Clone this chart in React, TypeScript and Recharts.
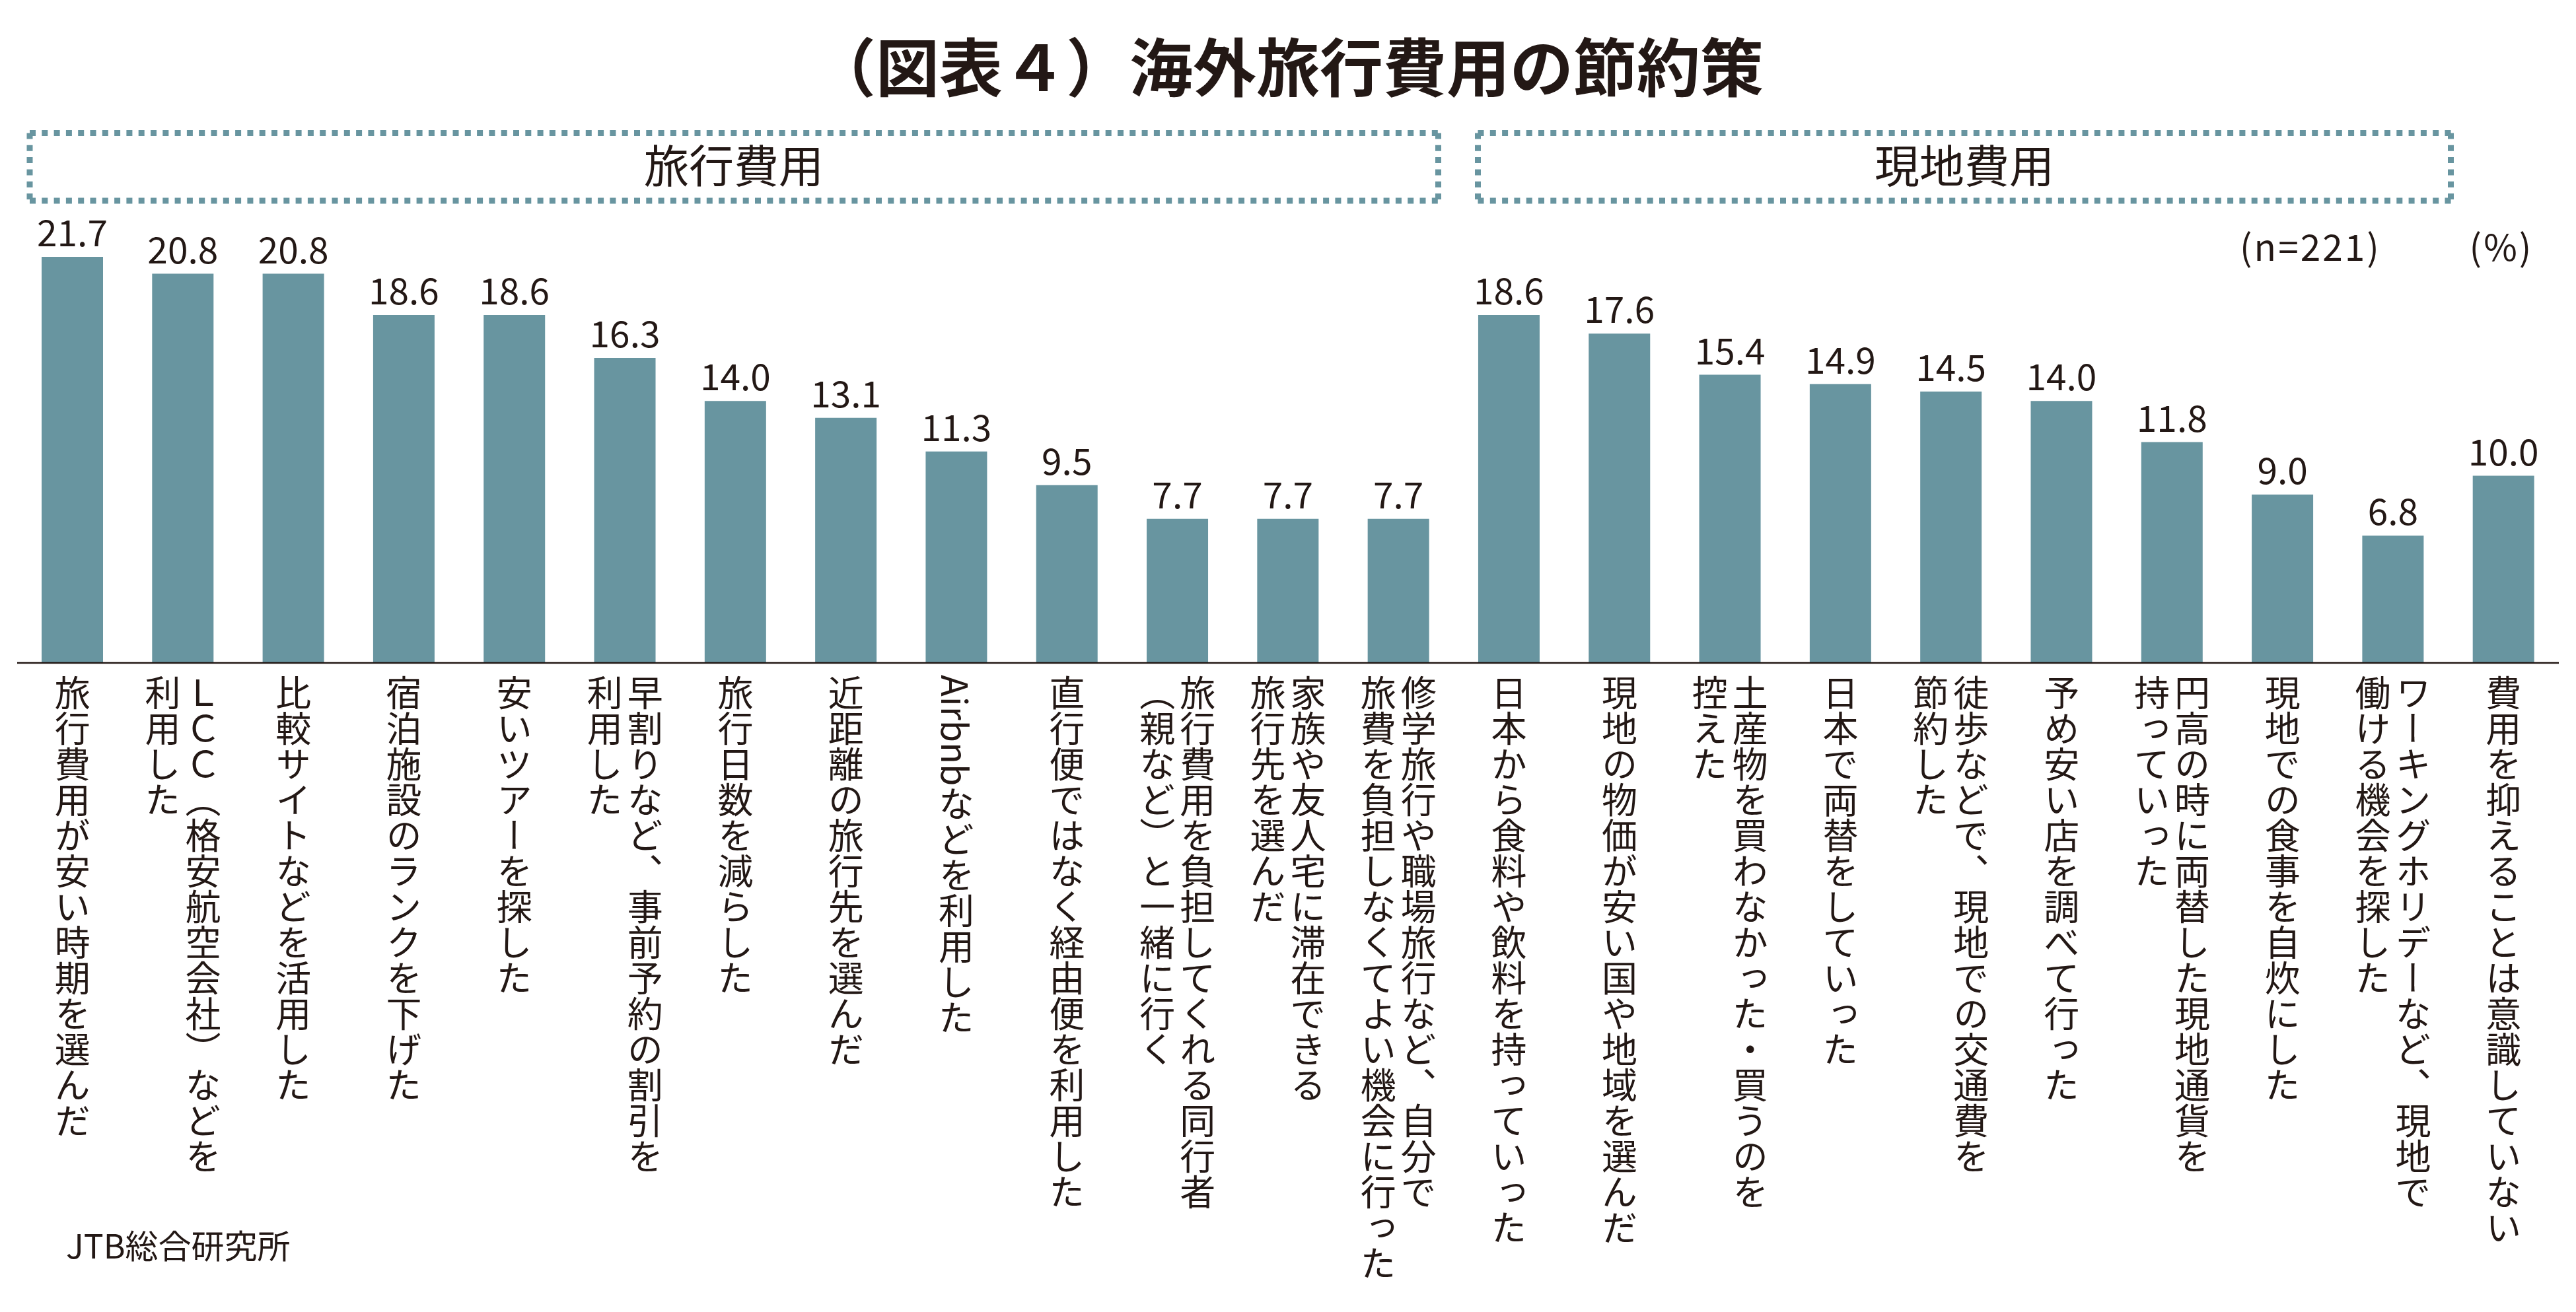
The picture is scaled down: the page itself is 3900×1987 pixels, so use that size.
import React from 'react'
import { BarChart, Bar, XAxis, YAxis, LabelList } from 'recharts'

// category labels, one entry per bar; each inner array is the columns of the vertical label
const labelLines: string[][] = [
  ['旅行費用が安い時期を選んだ'],
  ['ＬＣＣ（格安航空会社）などを', '利用した'],
  ['比較サイトなどを活用した'],
  ['宿泊施設のランクを下げた'],
  ['安いツアーを探した'],
  ['早割りなど、事前予約の割引を', '利用した'],
  ['旅行日数を減らした'],
  ['近距離の旅行先を選んだ'],
  ['Airbnbなどを利用した'],
  ['直行便ではなく経由便を利用した'],
  ['旅行費用を負担してくれる同行者', '（親など）と一緒に行く'],
  ['家族や友人宅に滞在できる', '旅行先を選んだ'],
  ['修学旅行や職場旅行など、自分で', '旅費を負担しなくてよい機会に行った'],
  ['日本から食料や飲料を持っていった'],
  ['現地の物価が安い国や地域を選んだ'],
  ['土産物を買わなかった・買うのを', '控えた'],
  ['日本で両替をしていった'],
  ['徒歩などで、現地での交通費を', '節約した'],
  ['予め安い店を調べて行った'],
  ['円高の時に両替した現地通貨を', '持っていった'],
  ['現地での食事を自炊にした'],
  ['ワーキングホリデーなど、現地で', '働ける機会を探した'],
  ['費用を抑えることは意識していない'],
]

const values = [21.7, 20.8, 20.8, 18.6, 18.6, 16.3, 14.0, 13.1, 11.3, 9.5, 7.7, 7.7, 7.7, 18.6, 17.6, 15.4, 14.9, 14.5, 14.0, 11.8, 9.0, 6.8, 10.0]

const groupNames = ['旅行費用', '現地費用']
const title = '（図表４）海外旅行費用の節約策'
const sampleNote = '(n=221)'
const unitNote = '(%)'
const source = 'JTB総合研究所'

const data = labelLines.map((lines, i) => ({ name: lines.join(''), value: values[i] }))
const linesByName = new Map(data.map((d, i) => [d.name, labelLines[i]]))

const W = 3900
const H = 1987
const PLOT_TOP = 295.5
const PLOT_BOTTOM = 1004
const AXIS_H = 960
const FONT = "'Noto Sans CJK JP', 'Noto Sans', sans-serif"
const INK = '#231815'
const TEAL = '#6895a0'

function VerticalTick(props: any) {
  const { x, payload } = props
  const lines = linesByName.get(payload.value) || [payload.value]
  return (
    <foreignObject x={x - 150} y={PLOT_BOTTOM + 18} width={300} height={940}>
      <div style={{ width: 300, height: 940, display: 'flex', justifyContent: 'center', alignItems: 'flex-start' }}>
        <div
          style={{
            writingMode: 'vertical-rl',
            fontFamily: FONT,
            fontSize: 54,
            lineHeight: '61px',
            color: INK,
            whiteSpace: 'nowrap',
          }}
        >
          {lines.map((l, i) => (
            <div key={i}>{l}</div>
          ))}
        </div>
      </div>
    </foreignObject>
  )
}

// dotted group frame, square dots like the print original
function DotBox({ x1, x2, y1, y2 }: { x1: number; x2: number; y1: number; y2: number }) {
  const s = { stroke: TEAL, strokeWidth: 9, strokeDasharray: '9 9.3', fill: 'none' }
  return (
    <g>
      <line x1={x1} y1={y1} x2={x2} y2={y1} {...s} />
      <line x1={x1} y1={y2} x2={x2} y2={y2} {...s} />
      <line x1={x1} y1={y1} x2={x1} y2={y2} {...s} />
      <line x1={x2} y1={y1} x2={x2} y2={y2} {...s} />
    </g>
  )
}

export default function App() {
  return (
    <div style={{ position: 'absolute', left: 0, top: 0, width: W, height: H, background: '#fff' }}>
      <BarChart
        width={W}
        height={H}
        data={data}
        margin={{ top: PLOT_TOP, right: 26, bottom: H - PLOT_BOTTOM - AXIS_H, left: 26 }}
        barCategoryGap={0}
      >
        <YAxis hide domain={[0, 25]} />
        <XAxis
          dataKey="name"
          interval={0}
          height={AXIS_H}
          tickLine={false}
          tickSize={0}
          tickMargin={0}
          axisLine={{ stroke: INK, strokeWidth: 2.5 }}
          tick={<VerticalTick />}
        />
        <Bar dataKey="value" fill={TEAL} barSize={93} isAnimationActive={false}>
          <LabelList
            dataKey="value"
            position="top"
            offset={16}
            formatter={(v: any) => Number(v).toFixed(1)}
            style={{ fontFamily: FONT, fontSize: 55, fill: INK }}
          />
        </Bar>
      </BarChart>

      <svg width={W} height={H} style={{ position: 'absolute', left: 0, top: 0, pointerEvents: 'none' }}>
        <text x={1950} y={138} textAnchor="middle" fontFamily={FONT} fontSize={96} fontWeight={700} fill={INK}>
          {title}
        </text>
        <DotBox x1={45} x2={2177.5} y1={201.5} y2={304} />
        <DotBox x1={2237.5} x2={3710.5} y1={201.5} y2={304} />
        <text x={1111} y={277} textAnchor="middle" fontFamily={FONT} fontSize={68} fill={INK}>
          {groupNames[0]}
        </text>
        <text x={2974} y={277} textAnchor="middle" fontFamily={FONT} fontSize={68} fill={INK}>
          {groupNames[1]}
        </text>
        <text x={3391} y={395} fontFamily={FONT} fontSize={55} letterSpacing={3} fill={INK}>
          {sampleNote}
        </text>
        <text x={3787} y={395} textAnchor="middle" fontFamily={FONT} fontSize={55} letterSpacing={3} fill={INK}>
          {unitNote}
        </text>
        <text x={100} y={1906} fontFamily={FONT} fontSize={50} fill={INK}>
          {source}
        </text>
      </svg>
    </div>
  )
}
